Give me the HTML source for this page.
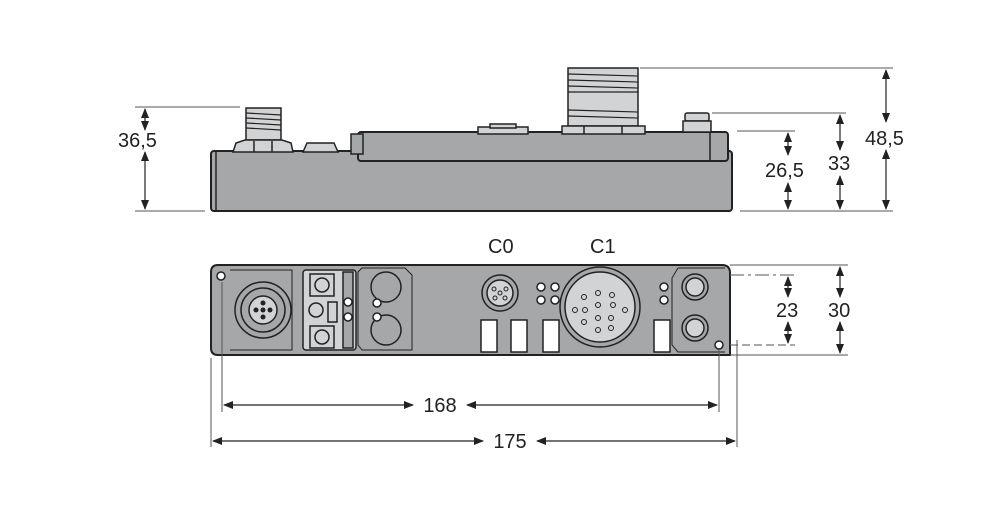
<!DOCTYPE html>
<html><head><meta charset="utf-8"><style>body{margin:0;background:#fff}svg{display:block}text{font-family:"Liberation Sans",sans-serif;font-size:20px;fill:#222}</style></head><body>
<svg width="999" height="513" viewBox="0 0 999 513">
<defs><marker id="a" markerWidth="10" markerHeight="10" refX="9" refY="4" orient="auto-start-reverse" markerUnits="userSpaceOnUse"><path d="M0,0 L10,4 L0,8 z" fill="#222"/></marker></defs>
<g stroke="#222" stroke-width="1.5">
<!-- side view -->
<rect x="211" y="151" width="521" height="60" rx="3" fill="#a6a7a9" stroke-width="2"/>
<line x1="216" y1="152" x2="216" y2="210"/>
<rect x="358" y="132" width="370" height="29" rx="3" fill="#a6a7a9" stroke-width="2"/>
<line x1="710" y1="132" x2="710" y2="160"/>
<rect x="351" y="134" width="12" height="20" fill="#a6a7a9"/>
<rect x="568" y="68" width="70" height="58" fill="#d2d3d5"/>
<g stroke-width="1.2"><line x1="568" y1="74" x2="638" y2="76"/><line x1="568" y1="80" x2="638" y2="82"/><line x1="568" y1="86" x2="638" y2="88"/><line x1="568" y1="92" x2="638" y2="92"/><line x1="568" y1="110" x2="638" y2="112"/><line x1="568" y1="116" x2="638" y2="118"/></g>
<rect x="562" y="126" width="83" height="8" fill="#d2d3d5"/>
<line x1="584" y1="126" x2="584" y2="134"/><line x1="622" y1="126" x2="622" y2="134"/>
<rect x="478" y="127" width="50" height="7" fill="#d2d3d5"/>
<rect x="490" y="124" width="26" height="4" fill="#d2d3d5"/>
<rect x="685" y="113" width="24" height="8" rx="2" fill="#d2d3d5"/>
<rect x="683" y="121" width="28" height="11" fill="#d2d3d5"/>
<rect x="246" y="108" width="35" height="32" fill="#d2d3d5"/>
<g stroke-width="1.2"><line x1="246" y1="113" x2="281" y2="115"/><line x1="246" y1="118" x2="281" y2="120"/><line x1="246" y1="123" x2="281" y2="125"/><line x1="246" y1="128" x2="281" y2="130"/></g>
<path d="M233,152 L236,143 L245,140 L282,140 L291,143 L293,152 Z" fill="#d2d3d5"/>
<line x1="254" y1="141" x2="254" y2="152"/><line x1="272" y1="141" x2="272" y2="152"/>
<path d="M303,152 L307,143 L334,143 L338,152 Z" fill="#d2d3d5"/>
<!-- front view -->
<path d="M218,265 L722,265 Q730,265 730,273 L730,355 L218,355 Q211,355 211,348 L211,272 Q211,265 218,265 Z" fill="#a6a7a9" stroke-width="2"/>
<path d="M230,270 L292,270 L292,350 L230,350" fill="none" stroke-width="1"/>
<path d="M362,268 L405,268 L412,275 L412,350 L362,350 L358,345 L358,272 Z" fill="#a6a7a9" stroke-width="1"/>
<path d="M678,268 L725,268 M678,268 L672,278 L672,345 L678,352 L725,352" fill="none" stroke-width="1"/>
<circle cx="221" cy="276" r="4" fill="#fff"/><circle cx="719" cy="345" r="4" fill="#fff"/>
<circle cx="263" cy="310" r="28" fill="#a6a7a9"/><circle cx="263" cy="310" r="22" fill="#a6a7a9"/><circle cx="263" cy="310" r="14" fill="#d2d3d5"/>
<g fill="#222" stroke="none"><circle cx="263" cy="310" r="2.5"/><circle cx="256" cy="310" r="2.5"/><circle cx="270" cy="310" r="2.5"/><circle cx="263" cy="303" r="2.5"/><circle cx="263" cy="317" r="2.5"/></g>
<rect x="303" y="270" width="53" height="80" rx="3" fill="#d2d3d5"/>
<rect x="310" y="274" width="24" height="22" fill="#d2d3d5"/><circle cx="322" cy="285" r="7" fill="#d2d3d5"/>
<rect x="310" y="326" width="24" height="22" fill="#d2d3d5"/><circle cx="322" cy="337" r="7" fill="#d2d3d5"/>
<circle cx="316" cy="310" r="7" fill="#d2d3d5"/><rect x="328" y="302" width="9" height="20" fill="#d2d3d5"/>
<rect x="343" y="272" width="10" height="76" fill="#a6a7a9"/>
<circle cx="348" cy="302" r="4" fill="#fff"/><circle cx="348" cy="317" r="4" fill="#fff"/>
<circle cx="386" cy="287" r="15" fill="#a6a7a9"/><circle cx="386" cy="330" r="15" fill="#a6a7a9"/>
<circle cx="377" cy="303" r="4" fill="#fff"/><circle cx="377" cy="317" r="4" fill="#fff"/>
<circle cx="500" cy="293" r="18" fill="#a6a7a9"/><circle cx="500" cy="293" r="13" fill="#d2d3d5"/>
<g fill="#d2d3d5" stroke-width="1"><circle cx="500" cy="293" r="2"/><circle cx="494" cy="289" r="2"/><circle cx="506" cy="289" r="2"/><circle cx="495" cy="298" r="2"/><circle cx="505" cy="298" r="2"/></g>
<g fill="#fff"><circle cx="541" cy="287" r="4"/><circle cx="555" cy="287" r="4"/><circle cx="541" cy="300" r="4"/><circle cx="555" cy="300" r="4"/><circle cx="664" cy="287" r="4"/><circle cx="664" cy="300" r="4"/></g>
<circle cx="600" cy="307" r="40" fill="#a6a7a9"/><circle cx="600" cy="307" r="35" fill="#d2d3d5"/>
<g fill="#d2d3d5" stroke-width="1"><circle cx="598" cy="293" r="2.5"/><circle cx="612" cy="295" r="2.5"/><circle cx="584" cy="297" r="2.5"/><circle cx="598" cy="305" r="2.5"/><circle cx="613" cy="305" r="2.5"/><circle cx="585" cy="310" r="2.5"/><circle cx="611" cy="318" r="2.5"/><circle cx="598" cy="318" r="2.5"/><circle cx="584" cy="322" r="2.5"/><circle cx="598" cy="330" r="2.5"/><circle cx="611" cy="328" r="2.5"/><circle cx="625" cy="310" r="2.5"/><circle cx="575" cy="310" r="2.5"/></g>
<g fill="#fff"><rect x="481" y="320" width="16" height="32"/><rect x="511" y="320" width="16" height="32"/><rect x="543" y="320" width="16" height="32"/><rect x="654" y="320" width="16" height="32"/></g>
<circle cx="695" cy="287" r="13" fill="#a6a7a9"/><circle cx="695" cy="287" r="9" fill="#d2d3d5"/>
<circle cx="695" cy="328" r="13" fill="#a6a7a9"/><circle cx="695" cy="328" r="9" fill="#d2d3d5"/>
</g>
<!-- dimensions -->
<g stroke="#555" stroke-width="1" fill="none">
<line x1="135" y1="107" x2="240" y2="107"/><line x1="135" y1="211" x2="205" y2="211"/>
<line x1="640" y1="68" x2="893" y2="68"/><line x1="712" y1="113" x2="846" y2="113"/><line x1="737" y1="131" x2="795" y2="131"/><line x1="740" y1="211" x2="893" y2="211"/>
<line x1="730" y1="265" x2="848" y2="265"/><line x1="730" y1="275" x2="795" y2="275" stroke-dasharray="14,4,3,4"/><line x1="730" y1="345" x2="795" y2="345" stroke-dasharray="8,4"/><line x1="730" y1="355" x2="848" y2="355"/>
<line x1="211" y1="358" x2="211" y2="447"/><line x1="222" y1="282" x2="222" y2="412"/><line x1="719" y1="350" x2="719" y2="412"/><line x1="737" y1="340" x2="737" y2="447"/>
</g>
<g stroke="#222" stroke-width="1.2" marker-start="url(#a)" marker-end="url(#a)">
<line x1="145" y1="109" x2="145" y2="130" marker-end=""/><line x1="145" y1="152" x2="145" y2="209" marker-start=""/>
<line x1="788" y1="133" x2="788" y2="155" marker-end=""/><line x1="788" y1="183" x2="788" y2="209" marker-start=""/>
<line x1="840" y1="115" x2="840" y2="150" marker-end=""/><line x1="840" y1="176" x2="840" y2="209" marker-start=""/>
<line x1="886" y1="70" x2="886" y2="122" marker-end=""/><line x1="886" y1="150" x2="886" y2="209" marker-start=""/>
<line x1="788" y1="277" x2="788" y2="297" marker-end=""/><line x1="788" y1="322" x2="788" y2="343" marker-start=""/>
<line x1="840" y1="267" x2="840" y2="297" marker-end=""/><line x1="840" y1="322" x2="840" y2="353" marker-start=""/>
<line x1="224" y1="405" x2="413" y2="405" marker-end=""/><line x1="467" y1="405" x2="717" y2="405" marker-start=""/>
<line x1="213" y1="441" x2="483" y2="441" marker-end=""/><line x1="537" y1="441" x2="735" y2="441" marker-start=""/>
</g>
<text x="118" y="147">36,5</text>
<text x="765" y="177">26,5</text>
<text x="828" y="170">33</text>
<text x="865" y="145">48,5</text>
<text x="776" y="317">23</text>
<text x="828" y="317">30</text>
<text x="440" y="412" text-anchor="middle">168</text>
<text x="510" y="448" text-anchor="middle">175</text>
<text x="488" y="253">C0</text>
<text x="590" y="253">C1</text>
</svg>
</body></html>
